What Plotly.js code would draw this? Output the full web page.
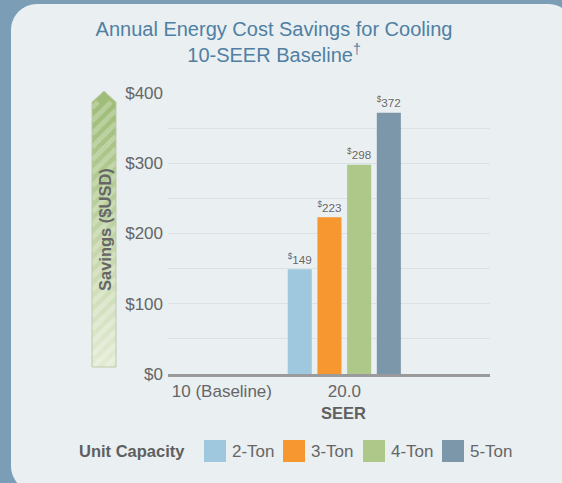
<!DOCTYPE html>
<html>
<head>
<meta charset="utf-8">
<script src="https://cdn.plot.ly/plotly-3.0.1.min.js"></script>
<style>
html,body{margin:0;padding:0;background:#7b9db5;}
#chart{width:562px;height:483px;}
</style>
</head>
<body>
<div id="chart"></div>
<script>
// ---- data ----
const categories = ['10 (Baseline)', '20.0'];
const seriesNames = ['2-Ton', '3-Ton', '4-Ton', '5-Ton'];
const ton2 = [0, 149];
const ton3 = [0, 223];
const ton4 = [0, 298];
const ton5 = [0, 372];
const yTickVals = [0, 100, 200, 300, 400];
const yTickText = ['$0', '$100', '$200', '$300', '$400'];

// ---- styles ----
const seriesValues = [ton2, ton3, ton4, ton5];
const colors = ['#9fc8df', '#f6982f', '#aec889', '#7c97a9'];
const W = 562, H = 483;
const M = {l: 168, r: 72, t: 93, b: 109};
const PW = W - M.l - M.r, PH = H - M.t - M.b;
const X = px => (px - M.l) / PW;
const Y = py => (H - M.b - py) / PH;
const font = 'Liberation Sans, Arial, sans-serif';

const traces = seriesValues.map((vals, i) => ({
  type: 'bar',
  name: seriesNames[i],
  x: categories,
  y: vals,
  marker: {color: colors[i]},
  text: vals.map(v => v > 0 ? '<sup>$</sup>' + v : null),
  textposition: 'outside',
  textfont: {family: font, size: 12.5, color: '#666666', shadow: '0px 0px 3px #ffffff'},
  cliponaxis: false,
  hoverinfo: 'skip',
  showlegend: false
}));

const shapes = [];
// panel
function roundRect(x0, y0, x1, y1, r) {
  const k = 0.5523 * r;
  const p = (x, y) => X(x) + ',' + Y(y);
  return 'M' + p(x0 + r, y0) + ' L' + p(x1 - r, y0) +
    ' C' + p(x1 - r + k, y0) + ' ' + p(x1, y0 + r - k) + ' ' + p(x1, y0 + r) +
    ' L' + p(x1, y1 - r) +
    ' C' + p(x1, y1 - r + k) + ' ' + p(x1 - r + k, y1) + ' ' + p(x1 - r, y1) +
    ' L' + p(x0 + r, y1) +
    ' C' + p(x0 + r - k, y1) + ' ' + p(x0, y1 - r + k) + ' ' + p(x0, y1 - r) +
    ' L' + p(x0, y0 + r) +
    ' C' + p(x0, y0 + r - k) + ' ' + p(x0 + r - k, y0) + ' ' + p(x0 + r, y0) + ' Z';
}
shapes.push({type: 'path', xref: 'paper', yref: 'paper', path: roundRect(11, 4, 574, 492, 26),
  fillcolor: '#eaeff2', line: {width: 0}, layer: 'below'});

// arrow decoration behind y-axis title
const ax0 = 92, ax1 = 116, ayHead = 91, ayTop = 102, ayBot = 367;
const c0 = [159, 189, 121], c1 = [226, 234, 210];
const N = 30;
for (let i = 0; i < N; i++) {
  const t = i / (N - 1);
  const c = c0.map((v, j) => Math.round(v + (c1[j] - v) * t));
  const ya = ayTop + (ayBot - ayTop) * i / N;
  const yb = ayTop + (ayBot - ayTop) * (i + 1) / N + 0.6;
  shapes.push({type: 'rect', xref: 'paper', yref: 'paper', x0: X(ax0), x1: X(ax1), y0: Y(ya), y1: Y(Math.min(yb, ayBot)),
    fillcolor: 'rgb(' + c.join(',') + ')', line: {width: 0}, layer: 'below'});
}
shapes.push({type: 'path', xref: 'paper', yref: 'paper',
  path: 'M' + X(ax0) + ',' + Y(ayTop + 0.5) + ' L' + X((ax0 + ax1) / 2) + ',' + Y(ayHead) + ' L' + X(ax1) + ',' + Y(ayTop + 0.5) + ' Z',
  fillcolor: 'rgb(' + c0.join(',') + ')', line: {width: 0}, layer: 'below'});
// stripes
const aw = ax1 - ax0;
for (let c = ayTop + 6; c < ayBot + aw; c += 13) {
  let xs = ax0, ys = c, xe = ax1, ye = c - aw;
  if (ys > ayBot) { xs = ax0 + (ys - ayBot); ys = ayBot; }
  if (ye < ayTop) { xe = ax0 + (c - ayTop); ye = ayTop; }
  if (xe - xs < 1) continue;
  shapes.push({type: 'line', xref: 'paper', yref: 'paper', x0: X(xs), y0: Y(ys), x1: X(xe), y1: Y(ye),
    line: {color: 'rgba(255,255,255,0.25)', width: 5}, layer: 'below'});
}
shapes.push({type: 'path', xref: 'paper', yref: 'paper',
  path: 'M' + X(ax0) + ',' + Y(ayBot) + ' L' + X(ax0) + ',' + Y(ayTop) + ' L' + X((ax0 + ax1) / 2) + ',' + Y(ayHead) +
    ' L' + X(ax1) + ',' + Y(ayTop) + ' L' + X(ax1) + ',' + Y(ayBot) + ' Z',
  fillcolor: 'rgba(0,0,0,0)', line: {color: '#bccaa9', width: 1}, layer: 'below'});

// custom legend
const annotations = [];
const legY = 451, box = 22;
const boxX = [204, 283, 363, 442];
annotations.push({xref: 'paper', yref: 'paper', x: X(77), y: Y(legY), xanchor: 'left', yanchor: 'middle',
  text: '<b>Unit Capacity</b>', showarrow: false, font: {family: font, size: 16.5, color: '#5f5f5f'}});
seriesNames.forEach((n, i) => {
  shapes.push({type: 'rect', xref: 'paper', yref: 'paper', x0: X(boxX[i]), x1: X(boxX[i] + box),
    y0: Y(legY + box / 2), y1: Y(legY - box / 2), fillcolor: colors[i], line: {width: 0}});
  annotations.push({xref: 'paper', yref: 'paper', x: X(boxX[i] + box + 4), y: Y(legY), xanchor: 'left', yanchor: 'middle',
    text: n, showarrow: false, font: {family: font, size: 17, color: '#666666'}});
});
// x-axis title under 20.0
annotations.push({xref: 'paper', yref: 'paper', x: X(343), y: Y(413), xanchor: 'center', yanchor: 'middle',
  text: '<b>SEER</b>', showarrow: false, font: {family: font, size: 16.5, color: '#5f5f5f'}});
// y-axis title inside arrow
annotations.push({xref: 'paper', yref: 'paper', x: X(105), y: Y(230), xanchor: 'center', yanchor: 'middle', textangle: -90,
  text: '<b>Savings ($USD)</b>', showarrow: false, font: {family: font, size: 16.5, color: '#666666'}});

const layout = {
  width: W, height: H,
  margin: M,
  paper_bgcolor: '#7b9db5',
  plot_bgcolor: 'rgba(0,0,0,0)',
  title: {
    text: 'Annual Energy Cost Savings for Cooling<br>10-SEER Baseline<sup>†</sup>',
    font: {family: font, size: 20, color: '#4f80a3'},
    x: 274 / W, xanchor: 'center', xref: 'container',
    y: 1 - 36 / H, yanchor: 'top', yref: 'container'
  },
  barmode: 'group',
  bargap: 0.03,
  bargroupgap: 0.19,
  xaxis: {
    type: 'category',
    range: [-0.44, 2.19],
    showline: true, linecolor: '#9a9a9a', linewidth: 3,
    showgrid: false, zeroline: false, ticks: '',
    tickfont: {family: font, size: 17, color: '#666666'},
    ticklabelstandoff: 0,
    fixedrange: true
  },
  yaxis: {
    range: [0, 400],
    tickvals: yTickVals, ticktext: yTickText,
    tickfont: {family: font, size: 17, color: '#666666'},
    showgrid: true, gridcolor: '#dbe2e7', gridwidth: 1,
    minor: {dtick: 50, showgrid: true, gridcolor: '#dbe2e7', gridwidth: 1},
    zeroline: false, showline: false, ticks: '',
    ticklabelstandoff: 4,
    fixedrange: true
  },
  shapes: shapes,
  annotations: annotations,
  showlegend: false
};

Plotly.newPlot('chart', traces, layout, {displayModeBar: false, staticPlot: true});
</script>
</body>
</html>
